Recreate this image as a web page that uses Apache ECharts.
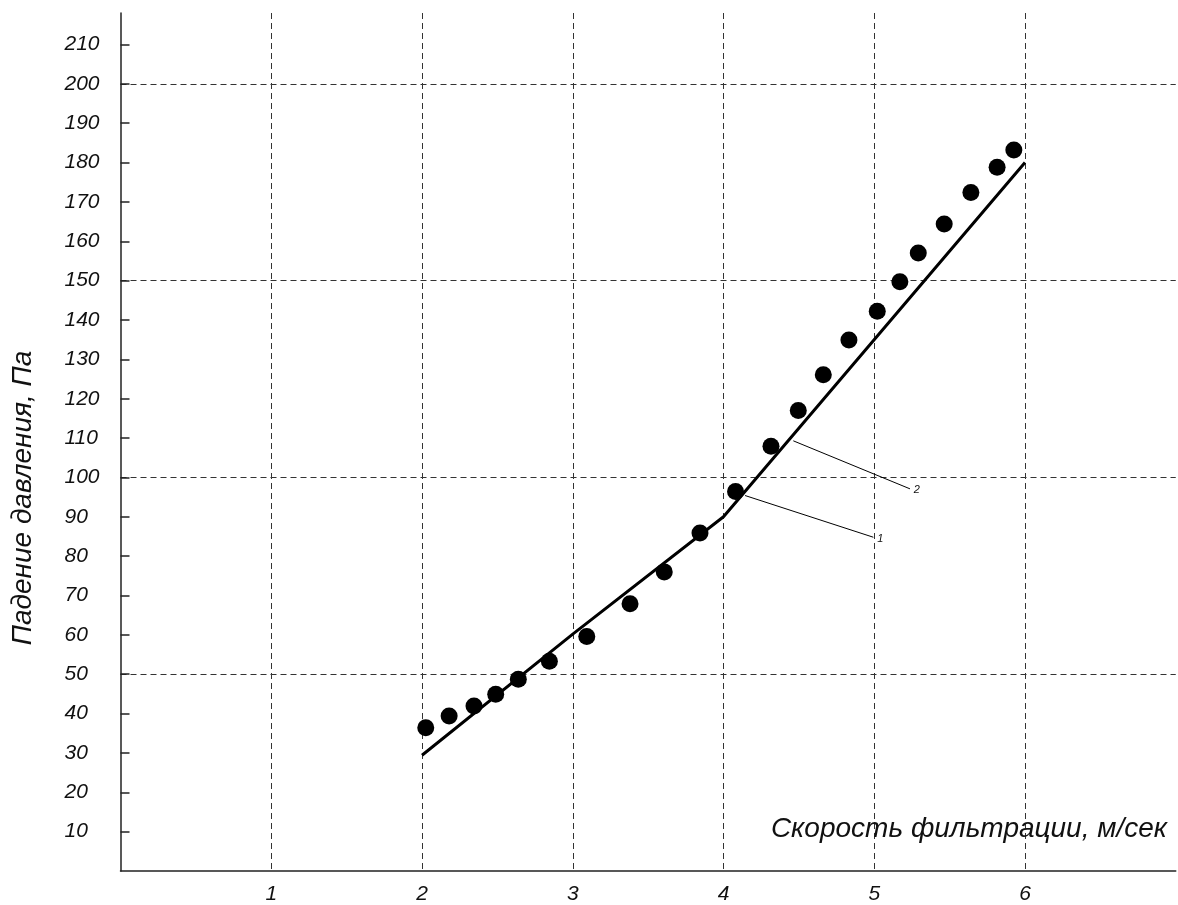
<!DOCTYPE html>
<html>
<head>
<meta charset="utf-8">
<script src="https://cdn.jsdelivr.net/npm/echarts@6/dist/echarts.min.js"></script>
<style>html,body{margin:0;padding:0;background:#fff;}#c{width:1178px;height:905px;}</style>
</head>
<body>
<div id="c"></div>
<script>
// measured points (dots)
const pointX = [2.025, 2.18, 2.345, 2.489, 2.639, 2.845, 3.093, 3.38, 3.607, 3.844, 4.08, 4.315, 4.496, 4.662, 4.832, 5.02, 5.17, 5.292, 5.464, 5.641, 5.815, 5.926];
const pointY = [36.4, 39.4, 41.9, 44.9, 48.7, 53.3, 59.6, 67.9, 76.0, 85.9, 96.4, 107.9, 117.0, 126.1, 134.9, 142.2, 149.7, 157.0, 164.4, 172.4, 178.8, 183.2];
// calculated curve
const lineX = [2, 3, 4, 6];
const lineY = [29.4, 60.2, 90, 180];
// axis ticks
const xTicks = [1, 2, 3, 4, 5, 6];
const yTicks = [10, 20, 30, 40, 50, 60, 70, 80, 90, 100, 110, 120, 130, 140, 150, 160, 170, 180, 190, 200, 210];
const yGrid = [50, 100, 150, 200];
// leader lines: label, from [x,y], to [x,y]
const leaderNames = ['1', '2'];
const leaderFrom = [[4.143, 95.4], [4.463, 109.3]];
const leaderTo = [[4.994, 84.8], [5.237, 97.1]];

const FONT = "'Liberation Sans', Arial, sans-serif";
const chart = echarts.init(document.getElementById('c'), null, {renderer: 'canvas'});
const gridLine = {show: true, lineStyle: {color: '#333', width: 1, type: [6, 4]}};
chart.setOption({
  animation: false,
  backgroundColor: '#fff',
  title: {
    text: 'Скорость фильтрации, м/сек',
    right: 11, top: 815, padding: 0,
    textStyle: {fontFamily: FONT, fontStyle: 'italic', fontWeight: 'normal', fontSize: 28, color: '#111'}
  },
  graphic: [{
    type: 'text', x: 23, y: 498, rotation: Math.PI / 2,
    style: {text: 'Падение давления, Па', fontFamily: FONT, fontStyle: 'italic', fontSize: 28, fill: '#111', textAlign: 'center', textVerticalAlign: 'middle'}
  }],
  grid: {left: 120.5, right: 2.25, top: 13, bottom: 32.3, containLabel: false},
  xAxis: {
    type: 'value', min: 0, max: 7,
    axisLine: {show: true, onZero: false, lineStyle: {color: '#222', width: 1.5}},
    axisTick: {show: false, customValues: xTicks},
    axisLabel: {customValues: xTicks, fontFamily: FONT, fontStyle: 'italic', fontSize: 21, color: '#111', margin: 13},
    splitLine: gridLine
  },
  yAxis: [{
    type: 'value', min: 0, max: 218,
    axisLine: {show: true, onZero: false, lineStyle: {color: '#222', width: 1.5}},
    axisTick: {show: true, inside: true, length: 9, customValues: yTicks, lineStyle: {color: '#222', width: 1.5}},
    axisLabel: {customValues: yTicks, align: 'left', margin: 56, fontFamily: FONT, fontStyle: 'italic', fontSize: 21, color: '#111'},
    splitLine: {show: false}
  }, {
    type: 'value', min: 0, max: 218, position: 'left',
    axisLine: {show: false},
    axisTick: {show: false, customValues: yGrid},
    axisLabel: {show: false, customValues: yGrid},
    splitLine: gridLine
  }],
  series: [{
    type: 'line',
    data: lineX.map((x, i) => [x, lineY[i]]),
    showSymbol: false, symbol: 'none',
    lineStyle: {color: '#000', width: 3},
    z: 3,
    markLine: {
      symbol: 'none', silent: true, animation: false,
      lineStyle: {color: '#000', width: 1, type: 'solid'},
      label: {show: true, position: 'end', formatter: '{b}', fontFamily: FONT, fontStyle: 'italic', fontSize: 11, color: '#111', distance: 4},
      data: leaderNames.map((n, i) => [{name: n, coord: leaderFrom[i]}, {name: n, coord: leaderTo[i]}])
    }
  }, {
    type: 'scatter',
    data: pointX.map((x, i) => [x, pointY[i]]),
    symbol: 'circle', symbolSize: 17,
    itemStyle: {color: '#000', opacity: 1},
    z: 4
  }]
});
</script>
</body>
</html>
